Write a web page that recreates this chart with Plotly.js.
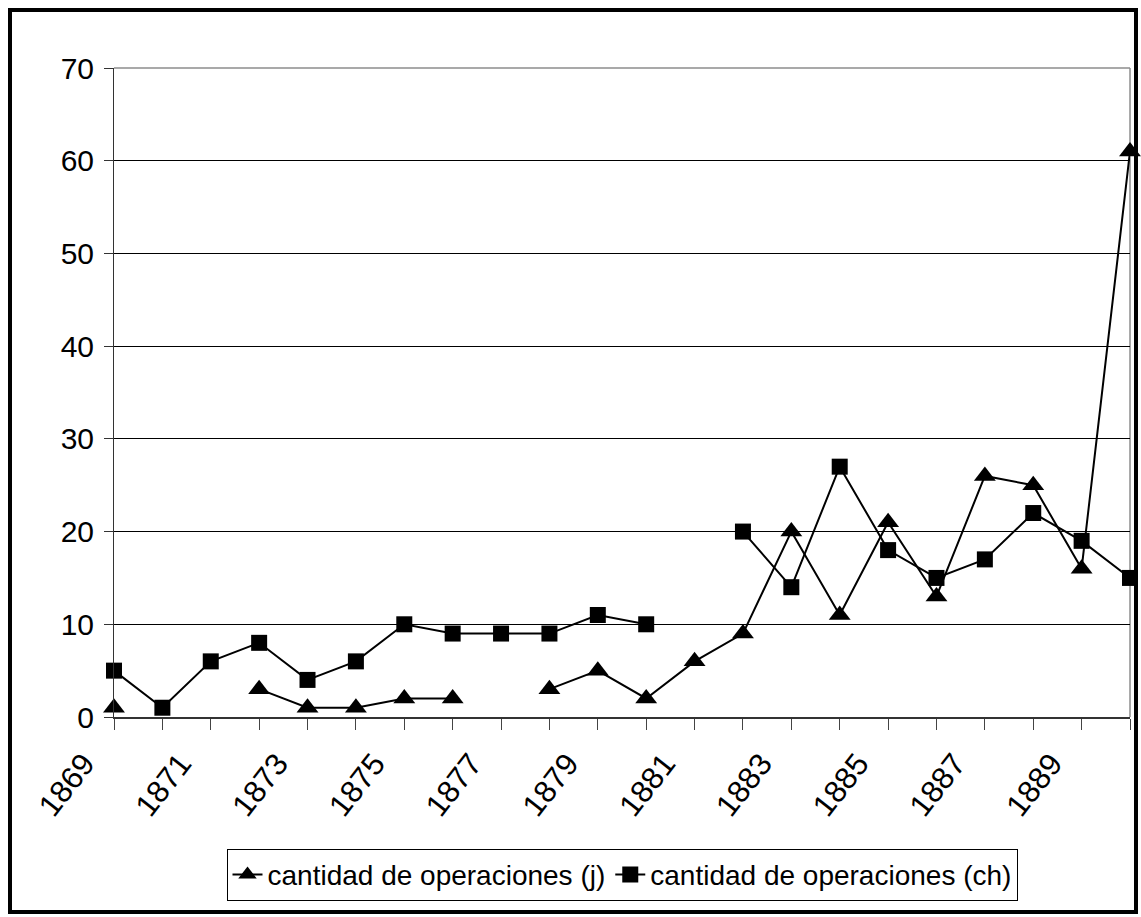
<!DOCTYPE html>
<html>
<head>
<meta charset="utf-8">
<script src="https://cdn.plot.ly/plotly-3.0.1.min.js"></script>
<style>
html,body{margin:0;padding:0;background:#fff;}
#chart{width:1141px;height:917px;}
</style>
</head>
<body>
<div id="chart"></div>
<script>
const years = [1869,1870,1871,1872,1873,1874,1875,1876,1877,1878,1879,1880,1881,1882,1883,1884,1885,1886,1887,1888,1889,1890];
const opsJ  = [1,null,null,3,1,1,2,2,null,3,5,2,6,9,20,11,21,13,26,25,16,61];
const opsCh = [5,1,6,8,4,6,10,9,9,9,11,10,null,20,14,27,18,15,17,22,19,15];
const nameJ = "cantidad de operaciones (j)";
const nameCh = "cantidad de operaciones (ch)";
const xTickVals = [1869,1871,1873,1875,1877,1879,1881,1883,1885,1887,1889];
const yTickVals = [0,10,20,30,40,50,60,70];

const FONT = '"Liberation Sans", Arial, sans-serif';

const traces = [
  {x: years, y: opsJ, name: nameJ, type: 'scatter', mode: 'lines+markers',
   connectgaps: false, cliponaxis: false,
   line: {color: '#000', width: 2},
   marker: {symbol: 'triangle-up', size: 19, color: '#000'}},
  {x: years, y: opsCh, name: nameCh, type: 'scatter', mode: 'lines+markers',
   connectgaps: false, cliponaxis: false,
   line: {color: '#000', width: 2},
   marker: {symbol: 'square', size: 16, color: '#000'}}
];

const layout = {
  width: 1141, height: 917,
  margin: {l: 114, r: 11, t: 68, b: 200},
  paper_bgcolor: '#fff', plot_bgcolor: '#fff',
  font: {family: FONT, color: '#000', size: 26},
  showlegend: true,
  legend: {orientation: 'h', x: 0.5, xanchor: 'center', y: -0.203, yanchor: 'top',
           bordercolor: '#000', borderwidth: 1, font: {family: FONT, size: 28, color: '#000'},
           itemwidth: 30, tracegroupgap: 0},
  xaxis: {range: [1869, 1890], tickmode: 'array', tickvals: xTickVals,
          ticktext: xTickVals.map(String), tickangle: -52,
          ticks: 'outside', ticklen: 11, tickwidth: 1, tickcolor: '#444',
          minor: {dtick: 1, ticks: 'outside', ticklen: 11, tickwidth: 1, tickcolor: '#444', showgrid: false},
          showline: true, linecolor: '#333', linewidth: 2,
          showgrid: false, zeroline: false,
          tickfont: {family: FONT, size: 31, color: '#000'},
          ticklabelshift: -30, ticklabelstandoff: 3},
  yaxis: {range: [0, 70], tickvals: yTickVals, ticks: 'outside', ticklen: 9, tickwidth: 1, tickcolor: '#333',
          showline: true, linecolor: '#333', linewidth: 1,
          showgrid: true, gridcolor: '#000', gridwidth: 1, zeroline: false,
          tickfont: {family: FONT, size: 30, color: '#000'}, ticklabelstandoff: 4},
  shapes: [
    {type: 'line', xref: 'paper', yref: 'paper', x0: 0, x1: 1, y0: 1, y1: 1, line: {color: '#8c8c8c', width: 1.5}, layer: 'above'},
    {type: 'line', xref: 'paper', yref: 'paper', x0: 1, x1: 1, y0: 0, y1: 1, line: {color: '#8c8c8c', width: 1.5}, layer: 'below'},
    {type: 'rect', xref: 'paper', yref: 'paper',
     x0: (10-114)/1016, x1: (1136-114)/1016, y0: (717-912)/649, y1: (717-10)/649,
     line: {color: '#000', width: 4}, fillcolor: 'rgba(0,0,0,0)', layer: 'above'}
  ]
};

Plotly.newPlot('chart', traces, layout, {displayModeBar: false, staticPlot: true});
</script>
</body>
</html>
